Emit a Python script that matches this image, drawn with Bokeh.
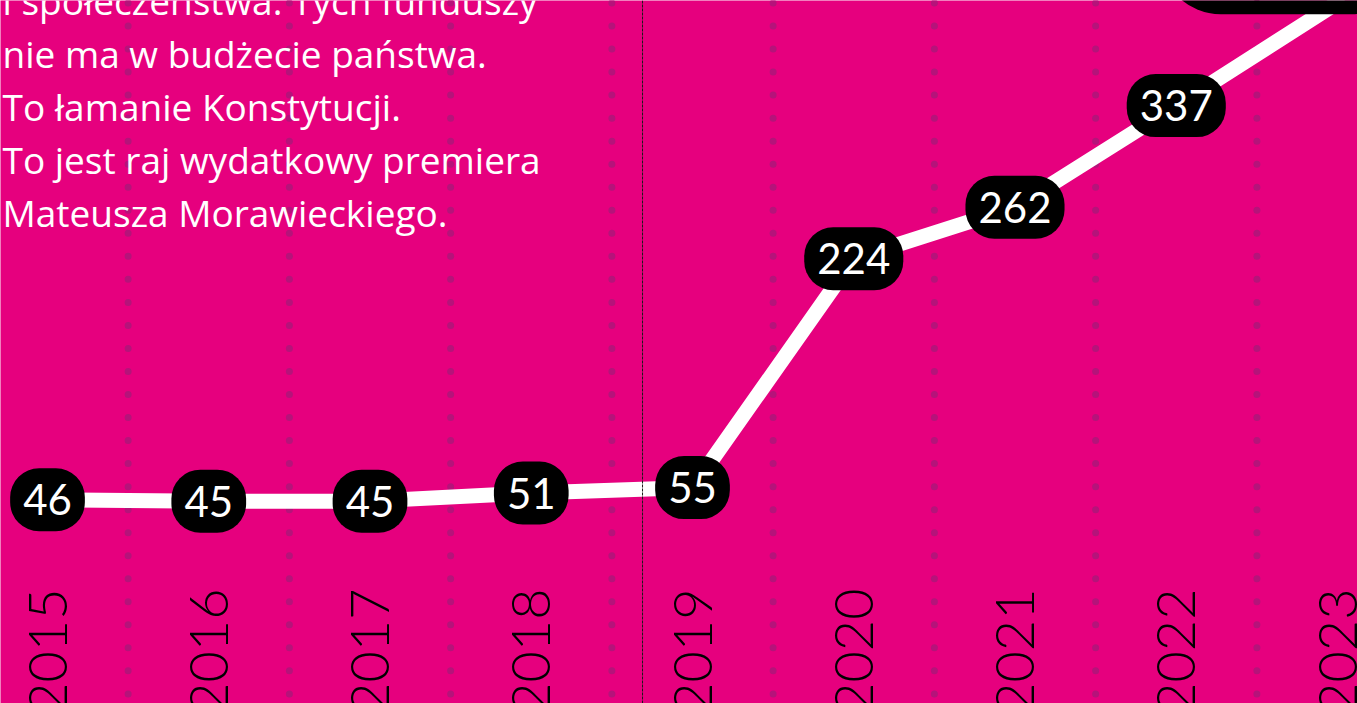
import numpy as np
from bokeh.plotting import figure
from bokeh.models import Range1d, Span
from bokeh.core.properties import value
from bokeh.embed import file_html
from bokeh.resources import INLINE

# ---- data ----
years = [2015, 2016, 2017, 2018, 2019, 2020, 2021, 2022, 2023]
values = [46, 45, 45, 51, 55, 224, 262, 337, 413]
value_labels = ["46", "45", "45", "51", "55", "224", "262", "337", "413"]
year_labels = ["2015", "2016", "2017", "2018", "2019", "2020", "2021", "2022", "2023"]
text_lines = [
    "i społeczeństwa. Tych funduszy",
    "nie ma w budżecie państwa.",
    "To łamanie Konstytucji.",
    "To jest raj wydatkowy premiera",
    "Mateusza Morawieckiego.",
]
marker_year = 2018.69  # thin dashed divider

# ---- style ----
BG = "#E6007E"
DOT = "#B5137A"
W, H = 1357, 703
X0, X1 = 2014.7085, 2023.124
Y0, Y1 = -104.4, 414.6
ppu_y = H / (Y1 - Y0)
ppu_x = W / (X1 - X0)

p = figure(width=W, height=H, x_range=Range1d(X0, X1), y_range=Range1d(Y0, Y1),
           output_backend="svg", toolbar_location=None, min_border=0,
           x_axis_location=None, y_axis_location=None,
           background_fill_color=BG, border_fill_color=BG, outline_line_color=None)
p.grid.visible = False

# dotted separators between years
mids = [(a + b) / 2 for a, b in zip(years[:-1], years[1:])]
step = 23.03 / ppu_y
dot_y = (Y1 - 2.5 / ppu_y) - step * np.arange(0, 32)
gx, gy = np.meshgrid(mids, dot_y)
p.scatter(gx.ravel(), gy.ravel(), size=7, fill_color=DOT, line_color=None)

# thin dashed divider
p.add_layout(Span(location=marker_year, dimension="height", line_color="#1a1a1a",
                  line_width=1, line_dash="3 1"))

# paragraph text
tx = X0 + 2 / ppu_x
for i, line in enumerate(text_lines):
    ty = Y1 - (0 + 53 * i) / ppu_y
    p.text(x=tx, y=ty, text=[line], text_font=value("Open Sans"), text_font_size="37px",
           text_color="white", text_align="left", text_baseline="alphabetic")

# main line
p.line(years, values, line_color="white", line_width=15, line_join="round", line_cap="round")

# value pills
p.text(x=years[:-1], y=values[:-1], text=value_labels[:-1], text_font=value("Lato"),
       text_font_size="42px", text_color="white", text_align="center", text_baseline="middle",
       background_fill_color="black", border_radius=29,
       padding=dict(left=13, right=13, top=16, bottom=16))

# last (large) pill
p.text(x=years[-1:], y=values[-1:], text=value_labels[-1:], text_font=value("Lato"),
       text_font_size="60px", text_color="white", text_align="center", text_baseline="middle",
       background_fill_color="black", border_radius=75, x_offset=-51, y_offset=-50,
       padding=dict(left=75, right=75, top=40, bottom=40))

# year labels (rotated)
ylab = Y1 - 588 / ppu_y
p.text(x=years, y=ylab, text=year_labels, angle=np.pi / 2, text_align="right",
       text_baseline="middle", text_font=value("Lato Light"), text_font_size="54px",
       text_color="black")

open("out.html", "w").write(file_html(p, INLINE))
